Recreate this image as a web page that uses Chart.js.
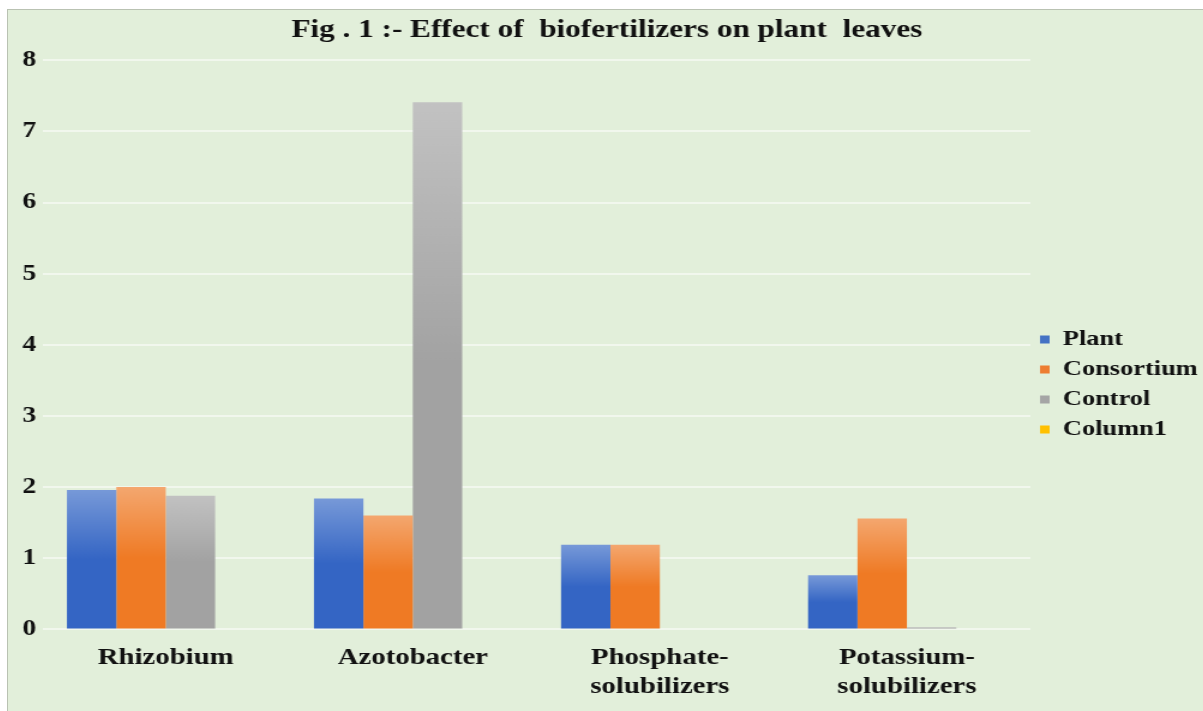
<!DOCTYPE html>
<html>
<head>
<meta charset="utf-8">
<script src="https://cdn.jsdelivr.net/npm/chart.js@4.4.0/dist/chart.umd.min.js"></script>
<style>
  body{margin:0;background:#fff;overflow:hidden;}
  #caja{position:absolute;left:7px;top:9px;width:1196px;height:702px;background:#e2efda;border-left:1px solid #b9c2b2;border-top:1px solid #b9c2b2;box-sizing:border-box;overflow:hidden;}
  /* la figura original esta estirada a lo ancho */
  #lienzo{position:absolute;left:0;top:0;width:996px;height:701px;transform:scaleX(1.2);transform-origin:0 0;}
</style>
</head>
<body>
<div id="caja"><div id="lienzo"><canvas id="grafica"></canvas></div></div>
<script>
// datos
var categorias = [["Rhizobium"], ["Azotobacter"], ["Phosphate-", "solubilizers"], ["Potassium-", "solubilizers"]];
var plant = [1.96, 1.84, 1.19, 0.76];
var consortium = [2.0, 1.60, 1.19, 1.56];
var control = [1.88, 7.41, 0, 0.03];
var column1 = [0, 0, 0, 0];

var fuente = "'Liberation Serif', 'Times New Roman', serif";

// degradado de cada barra, de arriba (claro) a abajo (oscuro)
function degradado(claro, oscuro){
    return function(ctx){
        var chart = ctx.chart;
        if(!chart.chartArea || ctx.type !== 'data') return oscuro;
        var y = chart.scales.y;
        var arriba = y.getPixelForValue(ctx.raw);
        var abajo = y.getPixelForValue(0);
        if(abajo - arriba < 1) return oscuro;
        var g = chart.ctx.createLinearGradient(0, arriba, 0, abajo);
        g.addColorStop(0, claro);
        g.addColorStop(0.5, oscuro);
        g.addColorStop(1, oscuro);
        return g;
    };
}

var chart = new Chart(document.getElementById("grafica").getContext('2d'), {
    type: 'bar',
    data: {
        labels: categorias,
        datasets: [{
            label: "Plant",
            data: plant,
            backgroundColor: degradado('#7799d8', '#3465c4'),
            legendColor: '#4472c4'
        }, {
            label: "Consortium",
            data: consortium,
            backgroundColor: degradado('#f4a76f', '#ef7a24'),
            legendColor: '#ed7d31'
        }, {
            label: "Control",
            data: control,
            backgroundColor: degradado('#c2c2c2', '#a2a2a2'),
            legendColor: '#a5a5a5'
        }, {
            label: "Column1",
            data: column1,
            backgroundColor: '#ffc000',
            legendColor: '#ffc000'
        }]
    },
    options: {
        responsive: true,
        maintainAspectRatio: false,
        animation: false,
        layout: { padding: { left: 7, right: 5, top: 0, bottom: 4 } },
        datasets: { bar: { categoryPercentage: 0.8, barPercentage: 1.0 } },
        plugins: {
            title: {
                display: true,
                text: "Fig . 1 :- Effect of  biofertilizers on plant  leaves",
                color: '#111',
                font: { family: fuente, size: 26, weight: 'bold' },
                padding: { top: 5, bottom: 14 }
            },
            legend: {
                position: 'right',
                maxWidth: 139,
                title: { display: true, text: ' ', font: { size: 10 }, padding: { top: 20, bottom: 20 } },
                labels: {
                    color: '#111',
                    font: { family: fuente, size: 22, weight: 'bold' },
                    boxWidth: 8,
                    boxHeight: 8,
                    padding: 8,
                    generateLabels: function(c){
                        return c.data.datasets.map(function(d, i){
                            return { text: d.label, fillStyle: d.legendColor, strokeStyle: d.legendColor, fontColor: '#111', lineWidth: 0, datasetIndex: i };
                        });
                    }
                }
            },
            tooltip: { enabled: false }
        },
        scales: {
            x: {
                grid: { display: false },
                border: { display: false },
                ticks: {
                    color: '#111',
                    font: { family: fuente, size: 24, weight: 'bold' },
                    maxRotation: 0,
                    padding: 6
                }
            },
            y: {
                min: 0,
                max: 8,
                ticks: {
                    stepSize: 1,
                    color: '#111',
                    font: { family: fuente, size: 23, weight: 'bold' },
                    padding: 5
                },
                grid: { color: 'rgba(255,255,255,0.5)', lineWidth: 2, drawTicks: false },
                border: { display: false }
            }
        }
    }
});
</script>
</body>
</html>
